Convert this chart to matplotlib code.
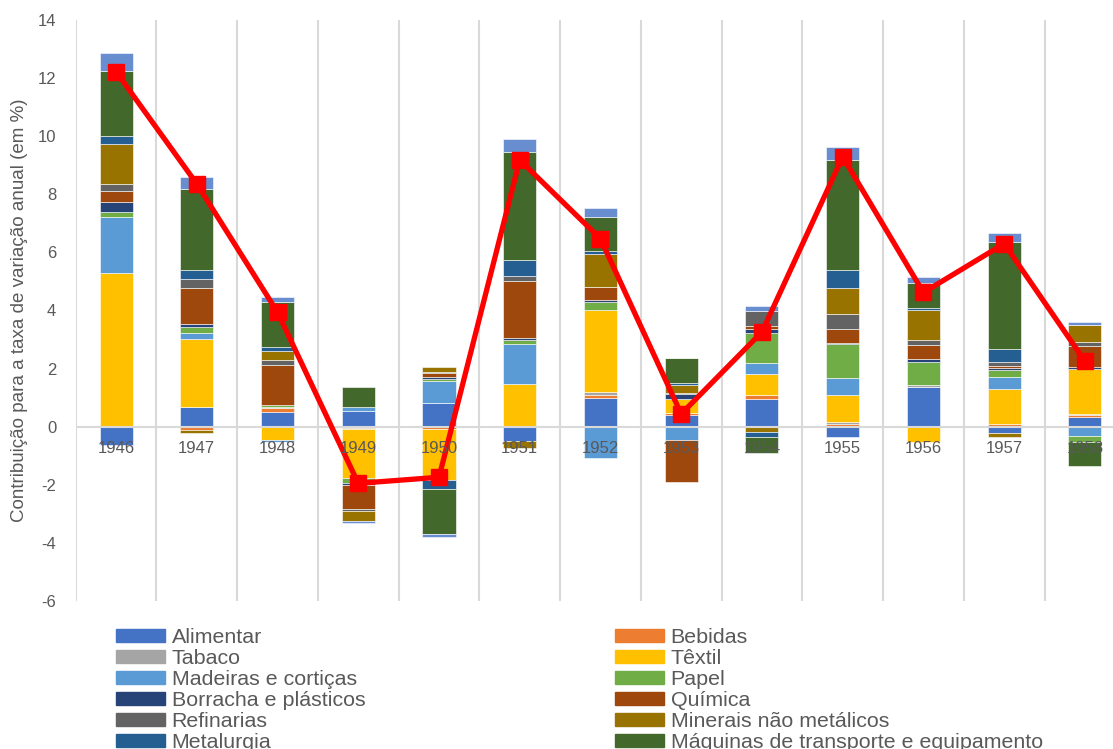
import numpy as np
import matplotlib.pyplot as plt
from matplotlib.patches import Patch

years = ['1946', '1947', '1948', '1949', '1950', '1951', '1952',
         '1953', '1954', '1955', '1956', '1957', '1958']

# contributions by branch (percentage points)
alimentar = [-0.63, 0.69, 0.52, 0.55, 0.80, -0.49, 1.00, 0.40, 0.97, -0.34, 1.38, -0.23, 0.34]
bebidas = [0.00, -0.12, 0.11, -0.06, -0.08, 0.00, 0.09, 0.08, 0.11, 0.09, 0.00, 0.08, 0.05]
tabaco = [0.04, 0.00, 0.06, -0.03, 0.00, 0.00, 0.09, 0.00, 0.00, 0.06, 0.06, 0.03, 0.06]
textil = [5.25, 2.33, -0.46, -1.69, -1.75, 1.47, 2.85, 0.46, 0.75, 0.95, -0.52, 1.18, 1.52]
madeiras = [1.93, 0.22, -0.05, 0.14, 0.78, 1.38, -1.07, -0.46, 0.37, 0.57, 0.00, 0.42, -0.32]
papel = [0.16, 0.18, 0.05, -0.15, 0.06, 0.14, 0.26, 0.00, 1.03, 1.17, 0.80, 0.23, -0.22]
borracha = [0.36, 0.10, -0.03, -0.06, 0.08, 0.07, 0.06, 0.18, 0.15, 0.05, 0.09, 0.07, 0.08]
quimica = [0.36, 1.26, 1.40, -0.86, 0.14, 1.95, 0.46, -1.45, 0.08, 0.49, 0.48, 0.08, 0.74]
refinarias = [0.24, 0.29, 0.14, -0.06, 0.03, 0.18, 0.00, 0.04, 0.53, 0.49, 0.19, 0.14, 0.11]
minerais = [1.39, -0.10, 0.33, -0.32, 0.16, -0.23, 1.15, 0.27, -0.17, 0.92, 1.01, -0.13, 0.61]
metalurgia = [0.28, 0.32, 0.13, 0.00, -0.32, 0.55, 0.08, 0.08, -0.17, 0.60, 0.08, 0.46, 0.00]
maquinas = [2.24, 2.79, 1.55, 0.69, -1.55, 3.70, 1.18, 0.84, -0.55, 3.78, 0.84, 3.67, -0.81]
outras = [0.60, 0.40, 0.19, -0.10, -0.09, 0.46, 0.32, 0.00, 0.16, 0.46, 0.21, 0.30, 0.10]

series = [
    ('Alimentar', alimentar, '#4472C4'),
    ('Bebidas', bebidas, '#ED7D31'),
    ('Tabaco', tabaco, '#A5A5A5'),
    ('Têxtil', textil, '#FFC000'),
    ('Madeiras e cortiças', madeiras, '#5B9BD5'),
    ('Papel', papel, '#70AD47'),
    ('Borracha e plásticos', borracha, '#264478'),
    ('Química', quimica, '#9E480E'),
    ('Refinarias', refinarias, '#636363'),
    ('Minerais não metálicos', minerais, '#997300'),
    ('Metalurgia', metalurgia, '#255E91'),
    ('Máquinas de transporte e equipamento', maquinas, '#43682B'),
    ('Outras', outras, '#698ED0'),
]

plt.rcParams['font.family'] = ['Liberation Sans', 'DejaVu Sans']
plt.rcParams['axes.unicode_minus'] = False
grey = '#595959'

fig = plt.figure(figsize=(11.13, 7.49), dpi=100)
ax = fig.add_axes([0.068, 0.1976, 0.943, 0.7757])

x = np.arange(len(years))
pos_base = np.zeros(len(years))
neg_base = np.zeros(len(years))
total = np.zeros(len(years))
for name, vals, col in series:
    v = np.array(vals)
    bottom = np.where(v >= 0, pos_base, neg_base)
    ax.bar(x, v, 0.41, bottom=bottom, color=col, edgecolor='white',
           linewidth=0.4, zorder=2)
    pos_base += np.where(v >= 0, v, 0)
    neg_base += np.where(v < 0, v, 0)
    total += v

ax.axhline(0, color='#d9d9d9', lw=1.5, zorder=2.5)
ax.plot(x, total, color='#FF0000', lw=3.8, marker='s', ms=11,
        zorder=4)

for i, yr in enumerate(years):
    ax.annotate(yr, xy=(i, 0), xytext=(0, -10.5), textcoords='offset points',
                ha='center', va='top', fontsize=12, color=grey, zorder=5)

ax.set_xlim(-0.5, len(years) - 0.5)
ax.set_ylim(-6, 14)
ax.set_yticks(np.arange(-6, 15, 2))
ax.set_xticks([])
ax.set_xticks(np.arange(-0.5, len(years), 1), minor=True)
ax.grid(which='minor', axis='x', color='#d9d9d9', lw=1.5, zorder=0)
ax.tick_params(axis='x', which='both', length=0)
ax.tick_params(axis='y', length=0, labelsize=12, labelcolor=grey, pad=14)
for s in ax.spines.values():
    s.set_visible(False)
ax.set_axisbelow(True)
ax.set_ylabel('Contribuição para a taxa de variação anual (em %)',
              fontsize=13.5, color=grey, labelpad=7)

handles = [Patch(color=c, label=n) for n, _, c in series]
left = handles[0::2]
right = handles[1::2]
kw = dict(frameon=False, fontsize=15.4, labelcolor=grey, handlelength=2.3,
          handleheight=0.55, handletextpad=0.3, labelspacing=0.09,
          borderpad=0, borderaxespad=0)
leg1 = fig.legend(handles=left, loc='upper left',
                  bbox_to_anchor=(116 / 1113, 1 - 628 / 749), **kw)
fig.legend(handles=right, loc='upper left',
           bbox_to_anchor=(615 / 1113, 1 - 628 / 749), **kw)

fig.savefig('out.png', dpi=100)
